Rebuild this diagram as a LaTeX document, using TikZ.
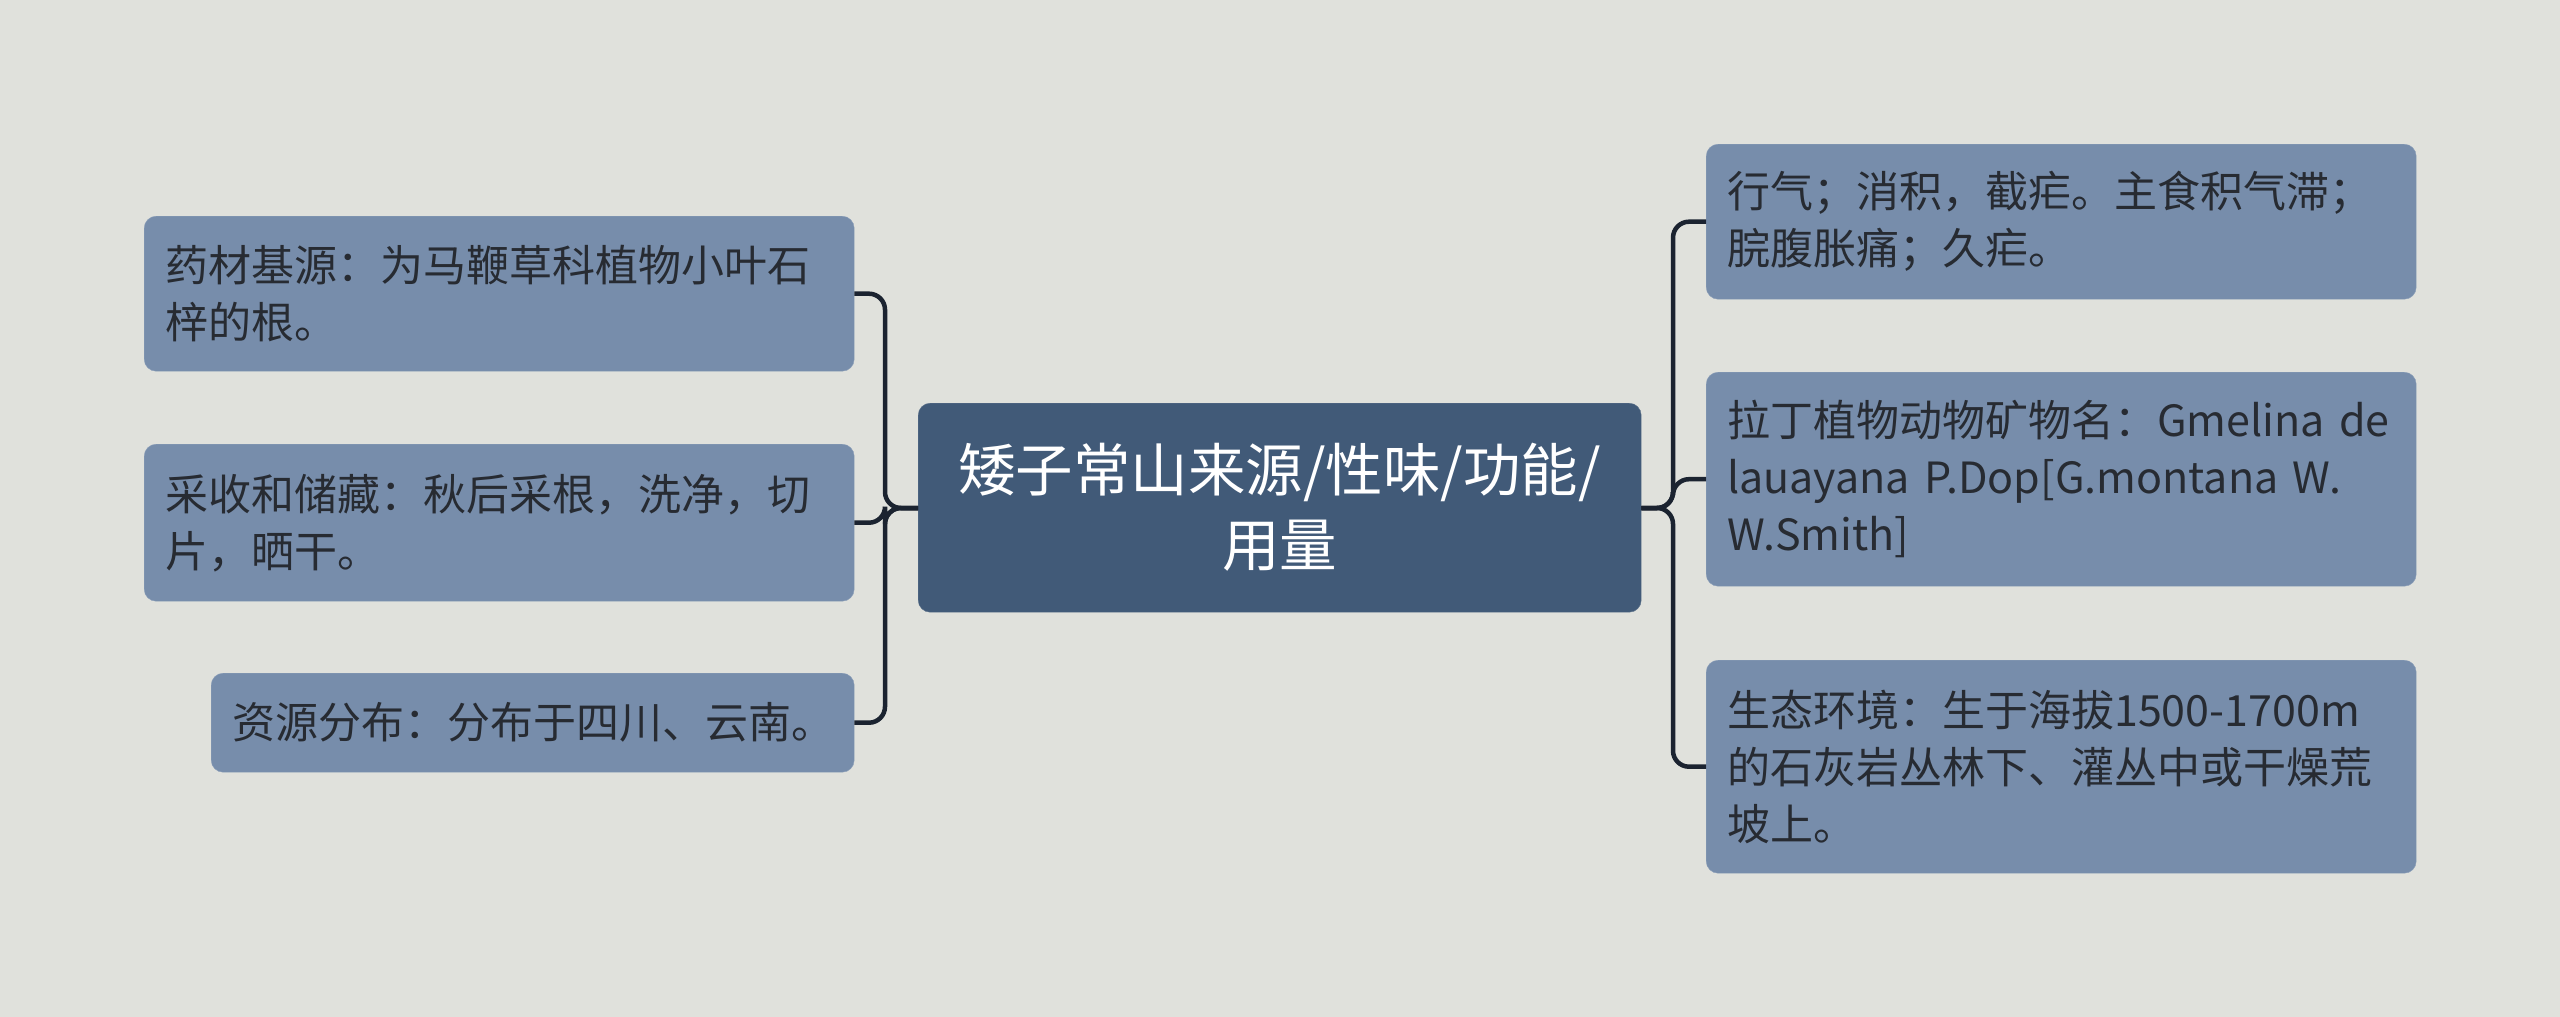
\documentclass[tikz,border=0pt]{standalone}
\usepackage{fontspec}
\setmainfont{Noto Sans CJK SC}
\definecolor{bgcol}{HTML}{E0E1DC}
\definecolor{leafblue}{HTML}{778DAB}
\definecolor{rootblue}{HTML}{415A78}
\definecolor{linkcol}{HTML}{1B2330}
\definecolor{leaftext}{HTML}{272B32}

\begin{document}
\begin{tikzpicture}[x=1pt,y=-1pt,
  leaf/.style={fill=leafblue, draw=leafblue!85!white, rounded corners=12pt, text=leaftext,
    font=\fontsize{43}{57}\selectfont, align=left, inner xsep=21pt, inner ysep=0pt,
    anchor=north west, minimum width=710pt},
  root/.style={fill=rootblue, draw=rootblue!85!white, rounded corners=12pt, text=white,
    font=\fontsize{57.5}{75}\selectfont, align=center, inner sep=0pt,
    anchor=north west, minimum width=723pt, minimum height=209pt, text width=700pt},
  link/.style={draw=linkcol, line width=4.5pt, rounded corners=16pt}]
\useasboundingbox[fill=bgcol] (0,0) rectangle (2560,1017);

% centre
\node[root] (root) at (918,403) {矮子常山来源/性味/功能/\\用量};

% left side
\node[leaf, text width=668pt, minimum height=155pt] (src) at (144,216)
  {药材基源：为马鞭草科植物小叶石\\梓的根。};
\node[leaf, text width=668pt, minimum height=157pt] (harv) at (144,444)
  {采收和储藏：秋后采根，洗净，切\\片，晒干。};
\node[leaf, text width=601pt, minimum width=643pt, minimum height=99pt] (dist) at (211,673)
  {资源分布：分布于四川、云南。};

% right side
\node[leaf, text width=668pt, minimum height=155pt] (func) at (1706,144)
  {行气；消积，截疟。主食积气滞；\\脘腹胀痛；久疟。};
\node[leaf, text width=668pt, minimum height=214pt] (latin) at (1706,372)
  {拉丁植物动物矿物名：Gmelina de\\lauayana P.Dop[G.montana W.\\W.Smith]};
\node[leaf, text width=668pt, minimum height=213pt] (env) at (1706,660)
  {生态环境：生于海拔1500-1700m\\的石灰岩丛林下、灌丛中或干燥荒\\坡上。};

% bus points
\coordinate (lbus) at (885,508);
\coordinate (rbus) at (1673,508);

\draw[link] (root.west |- lbus) -- (lbus) |- (src.east);
\draw[link] (root.west |- lbus) -- (lbus) |- (harv.east);
\draw[link] (root.west |- lbus) -- (lbus) |- (dist.east);
\draw[link] (root.east |- rbus) -- (rbus) |- (func.west);
\draw[link] (root.east |- rbus) -- (rbus) |- (latin.west);
\draw[link] (root.east |- rbus) -- (rbus) |- (env.west);
\end{tikzpicture}
\end{document}
